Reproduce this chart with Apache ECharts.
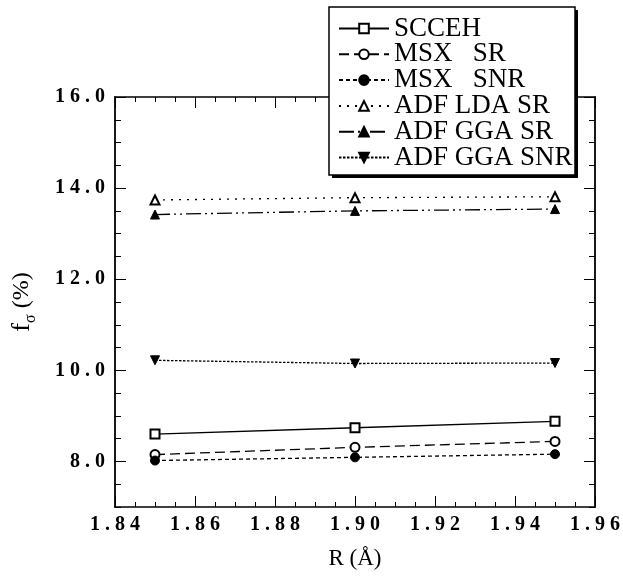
<!DOCTYPE html>
<html>
<head>
<meta charset="utf-8">
<script src="https://cdn.jsdelivr.net/npm/echarts@6/dist/echarts.min.js"></script>
<style>
html, body { margin: 0; padding: 0; background: #fff; }
#main { width: 623px; height: 576px; }
</style>
</head>
<body>
<div id="main"></div>
<script>
// R values (Å) and f_sigma (%) per method
const rValues = [1.85, 1.90, 1.95];
const scceh = [8.60, 8.74, 8.88];
const msxSR = [8.15, 8.31, 8.44];
const msxSNR = [8.02, 8.09, 8.16];
const adfLdaSR = [13.74, 13.79, 13.81];
const adfGgaSR = [13.42, 13.50, 13.54];
const adfGgaSNR = [10.22, 10.15, 10.16];
const yMajorTicks = [8, 10, 12, 14, 16];

const serif = 'Liberation Serif';
const spaced = function (s) { return s.split('').join(' '); };

function pts (arr) {
  return rValues.map(function (r, i) { return [r, arr[i]]; });
}

function xAx (pos, showLabel) {
  return {
    type: 'value', position: pos, min: 1.84, max: 1.96, interval: 0.02,
    axisLine: { show: true, lineStyle: { color: '#000', width: 1.6 } },
    axisTick: { show: true, inside: true, length: 11, lineStyle: { color: '#000', width: 1 } },
    minorTick: { show: true, splitNumber: 4, length: 5, lineStyle: { color: '#000', width: 1 } },
    splitLine: { show: false },
    axisLabel: {
      show: showLabel, margin: 8, color: '#000', fontFamily: serif, fontWeight: 'bold', fontSize: 20,
      formatter: function (v) { return spaced(v.toFixed(2)); }
    },
    name: showLabel ? 'R (Å)' : '', nameLocation: 'middle', nameGap: 40,
    nameTextStyle: { color: '#000', fontFamily: serif, fontSize: 23 }
  };
}

function yAx (pos, major, withLabel) {
  const a = {
    type: 'value', position: pos, min: 7, max: 16, interval: 0.5,
    axisLine: { show: !major, lineStyle: { color: '#000', width: 1.8 } },
    axisTick: { show: true, inside: true, length: major ? 11 : 6, lineStyle: { color: '#000', width: 1 } },
    splitLine: { show: false },
    axisLabel: { show: false }
  };
  if (major) a.axisTick.customValues = yMajorTicks;
  if (withLabel) {
    a.axisLabel = {
      show: true, customValues: yMajorTicks, margin: 10, color: '#000', fontFamily: serif,
      fontWeight: 'bold', fontSize: 20,
      formatter: function (v) { return spaced(v.toFixed(1)); }
    };
    a.name = '{f|f}{s|σ}{p| (%)}';
    a.nameLocation = 'middle';
    a.nameGap = 76;
    a.nameRotate = 90;
    a.nameTextStyle = {
      color: '#000', fontFamily: serif, fontSize: 24,
      rich: {
        f: { fontFamily: serif, fontSize: 26, color: '#000', lineHeight: 34, verticalAlign: 'middle' },
        s: { fontFamily: serif, fontSize: 16, color: '#000', lineHeight: 34, verticalAlign: 'bottom' },
        p: { fontFamily: serif, fontSize: 24, color: '#000', lineHeight: 34, verticalAlign: 'middle' }
      }
    };
  }
  return a;
}

function line (name, arr, symbol, dash, rotate) {
  return {
    name: name, type: 'line', data: pts(arr), xAxisIndex: 0, yAxisIndex: 0,
    symbol: symbol, symbolSize: 9, symbolRotate: rotate || 0,
    itemStyle: { color: '#000', borderColor: '#000', borderWidth: 1 },
    lineStyle: { color: '#000', width: 1.3, type: dash },
    emphasis: { disabled: true }, animation: false
  };
}

const chart = echarts.init(document.getElementById('main'));
chart.setOption({
  backgroundColor: '#fff',
  animation: false,
  grid: { left: 115, right: 24, top: 97, bottom: 69 },
  xAxis: [xAx('bottom', true), xAx('top', false)],
  yAxis: [yAx('left', false, true), yAx('left', true, false), yAx('right', false, false), yAx('right', true, false)],
  // legend frame with a hard drop shadow
  graphic: [
    { type: 'rect', z: 3, silent: true, shape: { x: 332, y: 10, width: 246, height: 168 }, style: { fill: '#000' } },
    { type: 'rect', z: 3, silent: true, shape: { x: 329, y: 7, width: 246, height: 168 }, style: { fill: '#fff', stroke: '#000', lineWidth: 1.5 } }
  ],
  legend: {
    orient: 'vertical', left: 331, top: 7, z: 5,
    padding: [8, 4, 8, 7], itemGap: -1.2, itemWidth: 50, itemHeight: 12,
    textStyle: { color: '#000', fontFamily: serif, fontSize: 27, lineHeight: 25 },
    selectedMode: false
  },
  series: [
    line('SCCEH', scceh, 'emptyRect', 'solid'),
    line('MSX   SR', msxSR, 'emptyCircle', [10, 5]),
    line('MSX   SNR', msxSNR, 'circle', [4, 3]),
    line('ADF LDA SR', adfLdaSR, 'emptyTriangle', [2, 6]),
    line('ADF GGA SR', adfGgaSR, 'triangle', [15, 4, 2, 4, 2, 4]),
    line('ADF GGA SNR', adfGgaSNR, 'triangle', [2.5, 1.5], 180)
  ]
});
</script>
</body>
</html>
